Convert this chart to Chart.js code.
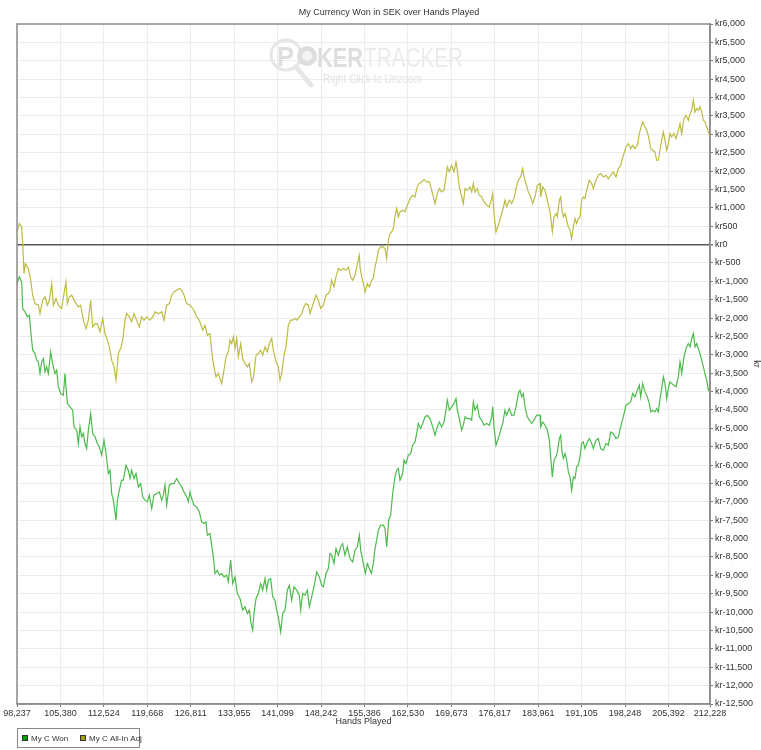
<!DOCTYPE html>
<html>
<head>
<meta charset="utf-8">
<script src="https://cdn.jsdelivr.net/npm/chart.js@4.4.1/dist/chart.umd.min.js"></script>
<style>
html,body{margin:0;padding:0;background:#fff;}
#wrap{width:761px;height:750px;position:relative;}
canvas{display:block;}
</style>
</head>
<body>
<div id="wrap"><canvas id="c" width="761" height="750"></canvas></div>
<script>
// ---- DATA ----
const chartTitle = "My Currency Won in SEK over Hands Played";
const xAxisTitle = "Hands Played";
const yAxisTitle = "kr";
const seriesNames = ["My C Won", "My C All-In Adj"];
const xTicks = [98237,105380,112524,119668,126811,133955,141099,148242,155386,162530,169673,176817,183961,191105,198248,205392,212228];
const yMin = -12500, yMax = 6000, yStep = 500;

// [hands played, kr] — My C Won
const wonPoints = [
[98237,-1062],[98621,-880],[99005,-1016],[99170,-1742],[99553,-1832],[99937,-1968],[100266,-1923],[100485,-2331],[100814,-2875],[101198,-2966],
[101472,-3147],[101747,-3193],[102021,-3510],[102295,-3193],[102569,-3102],[102843,-3465],[103117,-3329],[103391,-3510],[103775,-2921],[104104,-3238],
[104488,-3510],[104762,-3419],[105036,-3873],[105420,-4054],[105859,-4099],[106133,-3510],[106297,-3873],[106517,-4326],[106955,-4417],[107394,-4507],
[107613,-4961],[108052,-5051],[108326,-5414],[108600,-4961],[108874,-5233],[109149,-5142],[109423,-5414],[109697,-5550],[109971,-5051],[110355,-4598],
[110684,-5142],[111068,-5233],[111451,-5414],[111780,-5505],[112164,-5731],[112548,-5323],[112877,-5686],[113261,-6230],[113535,-6139],[113809,-6774],
[114083,-6955],[114303,-7227],[114522,-7499],[114741,-6955],[115070,-6683],[115454,-6411],[115728,-6411],[116167,-6003],[116551,-6139],[116825,-6366],
[117099,-6139],[117483,-6366],[117812,-6230],[118196,-6593],[118579,-6502],[118908,-6865],[119292,-6955],[119676,-7001],[120005,-6819],[120389,-7182],
[120773,-6819],[121211,-6774],[121650,-6729],[122034,-6955],[122308,-6819],[122582,-6547],[122856,-7091],[123295,-6547],[123679,-6502],[124062,-6502],
[124501,-6366],[124940,-6502],[125323,-6593],[125707,-6729],[126146,-6865],[126420,-7001],[126694,-6729],
[126968,-6910],[127352,-7091],[127791,-7137],[128229,-7273],[128613,-7545],[128997,-7590],[129326,-7545],[129545,-7907],[129984,-7862],[130258,-8179],
[130532,-8497],[130806,-8950],[131190,-8859],[131519,-8995],[131903,-8950],[132287,-9041],[132725,-8995],[133000,-9177],[133383,-8587],[133712,-9222],
[134096,-9041],[134480,-9494],[134918,-9630],[135357,-9947],[135741,-9857],[136125,-10038],[136454,-9947],[136728,-10310],[137002,-10491],[137221,-10038],
[137550,-9630],[137934,-9494],[138318,-9222],[138647,-9403],[139031,-9086],[139305,-9403],[139579,-9131],[139963,-9086],[140292,-9585],[140676,-9675],
[140950,-9947],[141224,-10129],[141608,-10537],[141937,-10038],[142320,-9947],[142704,-9403],[143033,-9267],[143417,-9675],[143801,-9313],[144240,-9403],
[144679,-9539],[144897,-9947],[145226,-9494],[145610,-9539],[145994,-9403],[146323,-9857],[146707,-9585],[147091,-9313],[147529,-8905],[147968,-9041],
[148352,-9267],[148626,-9313],[149065,-8950],[149448,-8814],[149723,-8406],[149997,-8451],[150381,-8678],[150709,-8270],[151093,-8451],[151477,-8225],
[151806,-8134],[152190,-8451],[152574,-8225],[153012,-8542],[153451,-8633],[153835,-8315],[154219,-8225],[154548,-7907],
[154767,-8315],[155096,-8587],[155315,-8769],[155534,-8950],[155864,-8678],[156192,-8814],[156521,-8950],[156850,-8678],[157124,-8270],[157398,-8043],
[157673,-7771],[158056,-7635],[158495,-7635],[158769,-7726],[159043,-8225],[159372,-7499],[159701,-7363],[160030,-6774],[160414,-6321],[160688,-6139],
[160962,-6094],[161237,-6411],[161676,-6230],[161894,-5867],[162223,-5958],[162607,-5731],[162991,-5686],[163320,-5459],[163704,-5369],[163978,-5142],
[164252,-4870],[164636,-5006],[164965,-4870],[165349,-4689],[165733,-4643],[166171,-4734],[166610,-4961],[166994,-5187],[167377,-4961],[167706,-4825],
[168090,-4961],[168474,-4825],[168803,-4507],[169022,-4235],[169351,-4507],[169735,-4417],[170119,-4326],[170448,-4190],[170667,-4507],[170996,-4734],
[171380,-5051],[171654,-4915],[171928,-4689],[172312,-4734],[172751,-4734],[173025,-4779],[173299,-4281],[173573,-4507],[173957,-4371],[174286,-4689],
[174670,-4779],[175054,-4915],[175492,-4870],[175931,-4915],[176315,-4689],[176480,-4417],[176699,-4961],[177028,-5459],[177412,-5278],[177795,-5051],
[178124,-4870],[178508,-4507],[178782,-4643],[179221,-4462],[179605,-4643],[179989,-4643],[180318,-4417],[180701,-4054],[180975,-3963],[181249,-4145],
[181524,-4054],[181798,-4417],[182182,-4689],[182511,-4779],[182894,-4870],[183278,-4779],[183717,-4643],[184265,-4643],
[184375,-4961],[184704,-4825],[185087,-4915],[185471,-5051],[185800,-5323],[186019,-5777],[186294,-6321],[186568,-5867],[186897,-5777],[187116,-5641],
[187445,-5278],[187664,-5187],[187884,-5641],[188103,-5822],[188377,-5686],[188651,-5867],[188925,-6185],[189200,-6321],[189474,-6683],[189748,-6321],
[190022,-6366],[190296,-6049],[190570,-6003],[190845,-5777],[191119,-5414],[191393,-5369],[191667,-5550],[191941,-5414],[192380,-5278],[192764,-5414],
[193038,-5550],[193477,-5323],[193860,-5278],[194244,-5550],[194683,-5595],[195121,-5414],[195505,-5459],[195889,-5097],[196328,-5142],[196766,-5278],
[197150,-5233],[197534,-4961],[197972,-4689],[198411,-4371],[198795,-4326],[199179,-4281],[199508,-4054],[199891,-4145],[200275,-3963],[200604,-3827],
[200824,-4145],[201153,-3782],[201536,-4009],[201920,-4145],[202249,-4326],[202468,-4553],[202797,-4507],[203181,-4553],[203455,-4462],[203730,-4553],
[204004,-4190],[204278,-3918],[204552,-3601],[204826,-3782],[205100,-4190],[205374,-3918],[205649,-3737],[205923,-3782],[206307,-3827],[206636,-3873],
[207019,-3601],[207294,-3193],[207568,-3510],[207951,-3057],[208280,-2830],[208664,-2694],[208938,-2785],[209213,-2558],[209487,-2422],[209761,-2785],
[210035,-2694],[210309,-2830],[210583,-2966],[210857,-3147],[211132,-3329],[211406,-3510],[211680,-3691],[211954,-3963],[212228,-3873]
];

// [hands played, kr] — My C All-In Adj
const adjPoints = [
[98237,344],[98621,570],[99005,480],[99170,26],[99389,-790],[99608,-518],[100102,-654],[100485,-971],[100814,-1379],[101198,-1606],
[101747,-1651],[102021,-1878],[102459,-1515],[102843,-1424],[103227,-1651],[103556,-1515],[103940,-1062],[104214,-1651],[104653,-1470],[105036,-1651],
[105585,-1742],[105968,-1334],[106297,-1016],[106517,-1606],[106846,-1424],[107230,-1379],[107778,-1560],[108326,-1696],[108710,-1651],[109149,-2059],
[109587,-2286],[109971,-2059],[110355,-1515],[110684,-2240],[111068,-2150],[111451,-2150],[111890,-2376],[112329,-2014],[112713,-2422],[113096,-2603],
[113425,-2785],[113809,-3147],[114193,-3329],[114522,-3691],[114906,-2966],[115290,-2830],[115619,-2603],[116002,-2059],[116277,-1878],[116715,-1968],
[117099,-2104],[117483,-1878],[117921,-2059],[118360,-2240],[118744,-1968],[119128,-2059],[119566,-1968],[120115,-2059],[120553,-1968],[120937,-1832],
[121485,-1878],[122034,-1832],[122417,-2059],[122856,-1651],[123295,-1606],[123679,-1379],[124062,-1288],[124501,-1243],[124940,-1198],[125323,-1243],
[125707,-1379],[126146,-1606],[126694,-1651],
[127352,-1787],[127791,-1968],[128229,-2059],[128777,-2331],[129161,-2195],[129545,-2467],[129984,-2422],[130258,-2875],[130532,-3238],[130971,-3600],
[131354,-3510],[131629,-3646],[131903,-3782],[132287,-3419],[132616,-3056],[133000,-2920],[133274,-2603],[133548,-2694],[133822,-2512],[134096,-2830],
[134370,-2558],[134644,-3056],[135028,-2694],[135357,-3102],[135741,-3238],[136125,-3328],[136454,-3238],[136837,-3736],[137112,-3646],[137550,-3011],
[137934,-2966],[138318,-2875],[138647,-3011],[139031,-2784],[139414,-2920],[139743,-2694],[140127,-2558],[140401,-2875],[140840,-3192],[141224,-3328],
[141498,-3691],[141772,-3510],[142156,-3011],[142485,-2784],[142869,-2195],[143253,-2059],[143582,-2059],[143965,-2014],[144240,-2059],[144679,-1968],
[145062,-1878],[145446,-1696],[145775,-1606],[146159,-1651],[146433,-1878],[146871,-1651],[147420,-1379],[147803,-1515],[148187,-1742],[148626,-1651],
[149065,-1379],[149448,-1334],[149723,-1243],[149997,-971],[150381,-1152],[150709,-880],[151093,-654],[151477,-699],[151916,-654],[152354,-699],
[152738,-608],[153122,-880],[153451,-971],[153835,-835],[154219,-518],[154548,-291],
[154657,-608],[154931,-880],[155205,-1062],[155479,-1288],[155864,-1062],[156192,-1152],[156576,-971],[156850,-926],[157124,-608],[157398,-427],
[157673,-155],[158056,-64],[158495,-64],[158769,-110],[159043,-382],[159317,117],[159592,298],[159866,344],[160140,434],[160414,752],
[160688,978],[160962,752],[161237,888],[161676,933],[162060,888],[162443,1069],[162881,1250],[163320,1341],[163704,1296],[163978,1522],
[164362,1658],[164800,1704],[165184,1767],[165623,1704],[166062,1704],[166445,1477],[166994,1114],[167376,1386],[167706,1522],[168090,1432],
[168474,1477],[168803,1840],[169022,2112],[169351,1976],[169735,2157],[170119,1976],[170448,2248],[170667,2021],[170996,1568],[171380,1296],
[171654,1114],[171928,1522],[172312,1477],[172751,1568],[173025,1432],[173299,1658],[173573,1432],[173957,1522],[174286,1341],[174670,1296],
[175054,1160],[175492,1069],[175931,1024],[176315,1250],[176480,1386],[176699,842],[177028,344],[177412,525],[177795,752],[178124,933],
[178508,1205],[178782,1024],[179221,1205],[179605,1114],[179989,1250],[180318,1522],[180701,1749],[181085,1840],[181414,2066],[181633,1840],
[181962,1658],[182346,1432],[182730,1296],[183059,1114],[183443,1296],[183827,1613],[184265,1658],
[184375,1296],[184704,1568],[185087,1477],[185471,1205],[185800,978],[186019,752],[186294,344],[186568,752],[186897,842],[187116,752],
[187445,1205],[187664,1296],[187884,933],[188103,752],[188377,842],[188651,661],[188925,480],[189200,389],[189474,162],[189748,480],
[190022,706],[190296,570],[190570,706],[190845,752],[191119,1205],[191393,1296],[191667,1250],[191941,1477],[192380,1749],[192764,1658],
[193038,1522],[193477,1749],[193860,1885],[194244,1930],[194683,1840],[195121,1885],[195505,1794],[195889,1885],[196328,1976],[196766,1840],
[197150,2066],[197534,2157],[197972,2429],[198411,2656],[198795,2746],[199179,2610],[199508,2701],[199891,2610],[200275,2701],[200604,3018],
[200824,3154],[201153,3336],[201536,3200],[201920,3064],[202249,2837],[202468,2610],[202797,2565],[203181,2520],[203455,2293],[203730,2293],
[204004,2565],[204278,2837],[204552,3064],[204826,2837],[205100,2565],[205374,2746],[205649,3018],[205923,2928],[206307,3018],[206636,2882],
[207019,3109],[207294,3290],[207568,3018],[207951,3426],[208280,3517],[208664,3381],[208938,3562],[209213,3653],[209487,3925],[209761,3608],
[210035,3698],[210309,3653],[210583,3744],[210857,3608],[211132,3381],[211406,3336],[211680,3200],[211954,3064],[212228,2928]
];

// ---- STYLE ----
const FONT = "'Liberation Sans', Arial, sans-serif";
const lineColors = ["#4dbb4d", "#bcbc45"];
const legendColors = ["#00a000", "#a0a000"];

function fitText(ctx, text, x, y, w) {
  const m = ctx.measureText(text).width;
  ctx.save();
  ctx.translate(x, y);
  ctx.scale(w / m, 1);
  ctx.textAlign = 'left';
  ctx.fillText(text, 0, 0);
  ctx.restore();
}

const decor = {
  id: 'decor',
  beforeDraw(chart) {
    const ctx = chart.ctx;
    ctx.save();
    ctx.fillStyle = '#fff';
    ctx.fillRect(0, 0, chart.width, chart.height);
    ctx.restore();
  },
  beforeDatasetsDraw(chart) {
    const ctx = chart.ctx;
    ctx.save();
    ctx.textBaseline = 'alphabetic';
    // watermark: magnifier lens around "P", chip "O", then KER / TRACKER
    ctx.strokeStyle = '#e6e6e6';
    ctx.lineWidth = 3;
    ctx.beginPath(); ctx.arc(286, 55, 15, 0, Math.PI * 2); ctx.stroke();
    ctx.lineWidth = 5; ctx.lineCap = 'round';
    ctx.beginPath(); ctx.moveTo(296, 67); ctx.lineTo(311, 85); ctx.stroke();
    ctx.fillStyle = '#dedede';
    ctx.font = "bold 28px " + FONT;
    fitText(ctx, 'P', 277, 66, 17);
    ctx.beginPath(); ctx.arc(307, 56, 10, 0, Math.PI * 2); ctx.fill();
    ctx.fillStyle = '#f4f4f4';
    ctx.beginPath(); ctx.arc(307, 56, 5, 0, Math.PI * 2); ctx.fill();
    ctx.fillStyle = '#dedede';
    fitText(ctx, 'KER', 317, 67, 46);
    ctx.fillStyle = '#ebebeb';
    ctx.font = "28px " + FONT;
    fitText(ctx, 'TRACKER', 364, 67, 99);
    ctx.fillStyle = '#e3e3e3';
    ctx.font = "12px " + FONT;
    fitText(ctx, 'Right Click to Unzoom', 323, 83, 99);
    ctx.restore();
  },
  afterDraw(chart) {
    const ctx = chart.ctx;
    const a = chart.chartArea;
    ctx.save();
    ctx.strokeStyle = '#8c8c8c';
    ctx.lineWidth = 1.5;
    ctx.strokeRect(a.left, a.top, a.right - a.left, a.bottom - a.top);
    ctx.fillStyle = '#333';
    ctx.font = "9px " + FONT;
    ctx.textAlign = 'center';
    ctx.textBaseline = 'middle';
    ctx.fillText(chartTitle, 389, 13);
    ctx.fillText(xAxisTitle, (a.left + a.right) / 2, 722);
    ctx.save();
    ctx.translate(756, (a.top + a.bottom) / 2);
    ctx.rotate(Math.PI / 2);
    ctx.fillText(yAxisTitle, 0, 0);
    ctx.restore();
    ctx.strokeStyle = '#888';
    ctx.lineWidth = 1;
    ctx.strokeRect(17.5, 728.5, 122, 19);
    ctx.textAlign = 'left';
    ctx.font = "8px " + FONT;
    let x = 22;
    chart.data.datasets.forEach((ds, i) => {
      ctx.fillStyle = legendColors[i];
      ctx.fillRect(x, 735, 6, 6);
      ctx.strokeStyle = '#333';
      ctx.strokeRect(x + 0.5, 735.5, 5, 5);
      ctx.fillStyle = '#333';
      ctx.fillText(ds.label, x + 9, 738.5);
      x += 58;
    });
    ctx.restore();
  }
};

const ctx = document.getElementById('c').getContext('2d');
new Chart(ctx, {
  type: 'line',
  data: {
    datasets: [
      { label: seriesNames[0], data: wonPoints.map(p => ({x: p[0], y: p[1]})), borderColor: lineColors[0], backgroundColor: lineColors[0], borderWidth: 1.2, pointRadius: 0, tension: 0, fill: false },
      { label: seriesNames[1], data: adjPoints.map(p => ({x: p[0], y: p[1]})), borderColor: lineColors[1], backgroundColor: lineColors[1], borderWidth: 1.2, pointRadius: 0, tension: 0, fill: false }
    ]
  },
  options: {
    responsive: false,
    animation: false,
    devicePixelRatio: 1,
    layout: { padding: { left: 17, top: 24, right: 0, bottom: 0 } },
    plugins: { legend: { display: false }, title: { display: false }, tooltip: { enabled: false } },
    scales: {
      x: {
        type: 'linear', position: 'bottom', min: xTicks[0], max: xTicks[xTicks.length - 1],
        afterBuildTicks: s => { s.ticks = xTicks.map(v => ({ value: v })); },
        afterFit: s => { s.height = 46; },
        ticks: { autoSkip: false, maxRotation: 0, minRotation: 0, padding: 1, color: '#333', font: { family: FONT, size: 9 }, callback: v => Number(v).toLocaleString('en-US') },
        grid: { color: '#ececec', lineWidth: 1, drawTicks: true, tickLength: 3, tickColor: '#777' },
        border: { display: true, color: '#8c8c8c', width: 1.5 }
      },
      y: {
        type: 'linear', position: 'right', min: yMin, max: yMax,
        afterFit: s => { s.width = 51; },
        ticks: { stepSize: yStep, autoSkip: false, padding: 2, color: '#333', font: { family: FONT, size: 9 }, callback: v => 'kr' + Number(v).toLocaleString('en-US') },
        grid: {
          color: c => (c.tick && c.tick.value === 0) ? '#555' : '#ececec',
          lineWidth: c => (c.tick && c.tick.value === 0) ? 1.5 : 1,
          drawTicks: true, tickLength: 3, tickColor: '#777'
        },
        border: { display: true, color: '#8c8c8c', width: 1.5 }
      }
    }
  },
  plugins: [decor]
});
</script>
</body>
</html>
